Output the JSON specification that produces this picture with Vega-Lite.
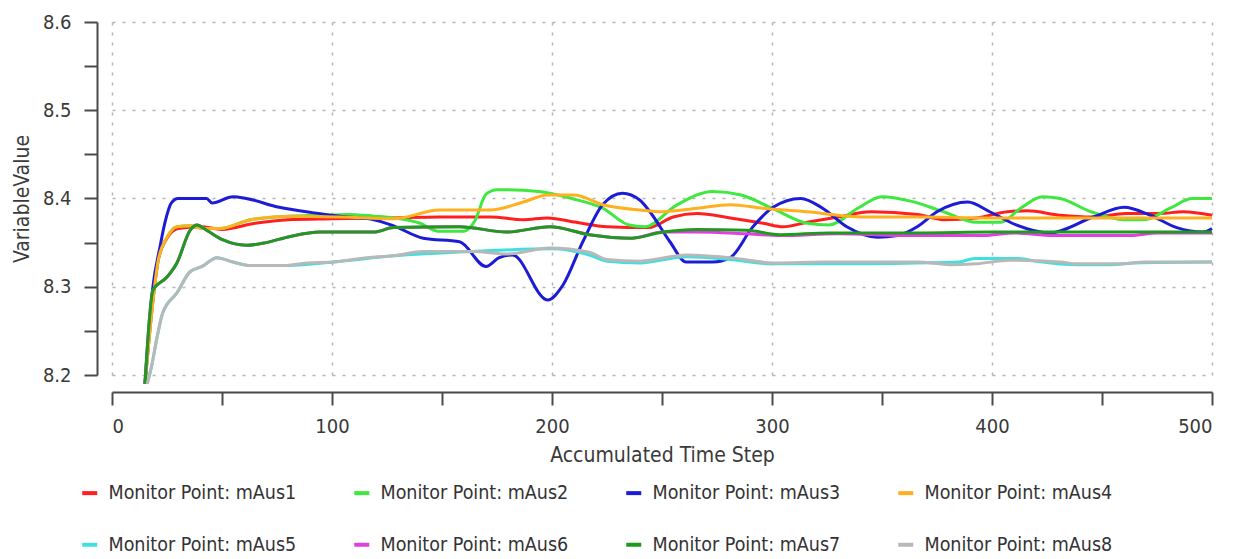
{
  "$schema": "https://vega.github.io/schema/vega-lite/v6.json",
  "width": 1100,
  "height": 353,
  "autosize": "none",
  "padding": {"left": 112, "top": 22, "right": 32, "bottom": 184},
  "background": "white",
  "datasets": {
    "pts": [
      {"s":"Monitor Point: mAus1","x":15,"y":8.19},{"s":"Monitor Point: mAus1","x":18,"y":8.27},{"s":"Monitor Point: mAus1","x":21,"y":8.33},{"s":"Monitor Point: mAus1","x":25,"y":8.355},{"s":"Monitor Point: mAus1","x":30,"y":8.366},{"s":"Monitor Point: mAus1","x":40,"y":8.368},{"s":"Monitor Point: mAus1","x":50,"y":8.365},{"s":"Monitor Point: mAus1","x":65,"y":8.372},{"s":"Monitor Point: mAus1","x":80,"y":8.376},{"s":"Monitor Point: mAus1","x":100,"y":8.377},{"s":"Monitor Point: mAus1","x":126,"y":8.378},{"s":"Monitor Point: mAus1","x":149,"y":8.379},{"s":"Monitor Point: mAus1","x":172,"y":8.379},{"s":"Monitor Point: mAus1","x":187,"y":8.376},{"s":"Monitor Point: mAus1","x":198,"y":8.378},{"s":"Monitor Point: mAus1","x":211,"y":8.373},{"s":"Monitor Point: mAus1","x":225,"y":8.368},{"s":"Monitor Point: mAus1","x":244,"y":8.367},{"s":"Monitor Point: mAus1","x":255,"y":8.379},{"s":"Monitor Point: mAus1","x":266,"y":8.383},{"s":"Monitor Point: mAus1","x":281,"y":8.378},{"s":"Monitor Point: mAus1","x":296,"y":8.372},{"s":"Monitor Point: mAus1","x":305,"y":8.368},{"s":"Monitor Point: mAus1","x":316,"y":8.373},{"s":"Monitor Point: mAus1","x":330,"y":8.379},{"s":"Monitor Point: mAus1","x":345,"y":8.385},{"s":"Monitor Point: mAus1","x":366,"y":8.382},{"s":"Monitor Point: mAus1","x":378,"y":8.376},{"s":"Monitor Point: mAus1","x":393,"y":8.378},{"s":"Monitor Point: mAus1","x":407,"y":8.385},{"s":"Monitor Point: mAus1","x":416,"y":8.386},{"s":"Monitor Point: mAus1","x":431,"y":8.381},{"s":"Monitor Point: mAus1","x":446,"y":8.379},{"s":"Monitor Point: mAus1","x":461,"y":8.383},{"s":"Monitor Point: mAus1","x":476,"y":8.383},{"s":"Monitor Point: mAus1","x":487,"y":8.385},{"s":"Monitor Point: mAus1","x":500,"y":8.381},

      {"s":"Monitor Point: mAus2","x":15,"y":8.19},{"s":"Monitor Point: mAus2","x":18,"y":8.27},{"s":"Monitor Point: mAus2","x":21,"y":8.33},{"s":"Monitor Point: mAus2","x":25,"y":8.356},{"s":"Monitor Point: mAus2","x":29.5,"y":8.368},{"s":"Monitor Point: mAus2","x":35.5,"y":8.369},{"s":"Monitor Point: mAus2","x":42,"y":8.366},{"s":"Monitor Point: mAus2","x":49,"y":8.366},{"s":"Monitor Point: mAus2","x":63,"y":8.376},{"s":"Monitor Point: mAus2","x":81,"y":8.38},{"s":"Monitor Point: mAus2","x":95,"y":8.381},{"s":"Monitor Point: mAus2","x":107,"y":8.382},{"s":"Monitor Point: mAus2","x":119,"y":8.38},{"s":"Monitor Point: mAus2","x":128,"y":8.378},{"s":"Monitor Point: mAus2","x":140,"y":8.372},{"s":"Monitor Point: mAus2","x":148,"y":8.363},{"s":"Monitor Point: mAus2","x":160,"y":8.363},{"s":"Monitor Point: mAus2","x":165,"y":8.375},{"s":"Monitor Point: mAus2","x":170,"y":8.405},{"s":"Monitor Point: mAus2","x":175,"y":8.41},{"s":"Monitor Point: mAus2","x":194,"y":8.408},{"s":"Monitor Point: mAus2","x":209,"y":8.4},{"s":"Monitor Point: mAus2","x":223,"y":8.389},{"s":"Monitor Point: mAus2","x":235,"y":8.37},{"s":"Monitor Point: mAus2","x":242,"y":8.368},{"s":"Monitor Point: mAus2","x":257,"y":8.393},{"s":"Monitor Point: mAus2","x":273,"y":8.408},{"s":"Monitor Point: mAus2","x":286,"y":8.404},{"s":"Monitor Point: mAus2","x":300,"y":8.389},{"s":"Monitor Point: mAus2","x":316,"y":8.372},{"s":"Monitor Point: mAus2","x":326,"y":8.37},{"s":"Monitor Point: mAus2","x":339,"y":8.389},{"s":"Monitor Point: mAus2","x":350,"y":8.402},{"s":"Monitor Point: mAus2","x":363,"y":8.397},{"s":"Monitor Point: mAus2","x":378,"y":8.385},{"s":"Monitor Point: mAus2","x":393,"y":8.373},{"s":"Monitor Point: mAus2","x":404,"y":8.373},{"s":"Monitor Point: mAus2","x":413,"y":8.389},{"s":"Monitor Point: mAus2","x":423,"y":8.402},{"s":"Monitor Point: mAus2","x":431,"y":8.4},{"s":"Monitor Point: mAus2","x":445,"y":8.385},{"s":"Monitor Point: mAus2","x":460,"y":8.376},{"s":"Monitor Point: mAus2","x":469,"y":8.376},{"s":"Monitor Point: mAus2","x":481,"y":8.389},{"s":"Monitor Point: mAus2","x":491,"y":8.4},{"s":"Monitor Point: mAus2","x":500,"y":8.4},

      {"s":"Monitor Point: mAus3","x":15,"y":8.19},{"s":"Monitor Point: mAus3","x":18.6,"y":8.3},{"s":"Monitor Point: mAus3","x":21.8,"y":8.345},{"s":"Monitor Point: mAus3","x":24,"y":8.372},{"s":"Monitor Point: mAus3","x":27,"y":8.395},{"s":"Monitor Point: mAus3","x":30,"y":8.4},{"s":"Monitor Point: mAus3","x":43,"y":8.4},{"s":"Monitor Point: mAus3","x":45.5,"y":8.395},{"s":"Monitor Point: mAus3","x":55,"y":8.402},{"s":"Monitor Point: mAus3","x":61,"y":8.4},{"s":"Monitor Point: mAus3","x":76,"y":8.39},{"s":"Monitor Point: mAus3","x":91,"y":8.384},{"s":"Monitor Point: mAus3","x":107,"y":8.379},{"s":"Monitor Point: mAus3","x":119,"y":8.376},{"s":"Monitor Point: mAus3","x":128,"y":8.369},{"s":"Monitor Point: mAus3","x":141.5,"y":8.355},{"s":"Monitor Point: mAus3","x":158,"y":8.351},{"s":"Monitor Point: mAus3","x":170,"y":8.323},{"s":"Monitor Point: mAus3","x":176,"y":8.333},{"s":"Monitor Point: mAus3","x":182,"y":8.336},{"s":"Monitor Point: mAus3","x":198,"y":8.285},{"s":"Monitor Point: mAus3","x":205,"y":8.302},{"s":"Monitor Point: mAus3","x":214,"y":8.351},{"s":"Monitor Point: mAus3","x":223,"y":8.393},{"s":"Monitor Point: mAus3","x":232,"y":8.406},{"s":"Monitor Point: mAus3","x":240,"y":8.398},{"s":"Monitor Point: mAus3","x":244.5,"y":8.385},{"s":"Monitor Point: mAus3","x":253.6,"y":8.351},{"s":"Monitor Point: mAus3","x":261,"y":8.328},{"s":"Monitor Point: mAus3","x":273,"y":8.328},{"s":"Monitor Point: mAus3","x":281,"y":8.333},{"s":"Monitor Point: mAus3","x":291,"y":8.367},{"s":"Monitor Point: mAus3","x":300.5,"y":8.39},{"s":"Monitor Point: mAus3","x":313,"y":8.4},{"s":"Monitor Point: mAus3","x":323,"y":8.389},{"s":"Monitor Point: mAus3","x":334,"y":8.368},{"s":"Monitor Point: mAus3","x":348,"y":8.356},{"s":"Monitor Point: mAus3","x":357,"y":8.358},{"s":"Monitor Point: mAus3","x":366,"y":8.368},{"s":"Monitor Point: mAus3","x":375,"y":8.385},{"s":"Monitor Point: mAus3","x":389,"y":8.396},{"s":"Monitor Point: mAus3","x":399,"y":8.385},{"s":"Monitor Point: mAus3","x":411,"y":8.37},{"s":"Monitor Point: mAus3","x":426,"y":8.361},{"s":"Monitor Point: mAus3","x":446,"y":8.379},{"s":"Monitor Point: mAus3","x":460,"y":8.39},{"s":"Monitor Point: mAus3","x":472,"y":8.381},{"s":"Monitor Point: mAus3","x":484,"y":8.367},{"s":"Monitor Point: mAus3","x":496,"y":8.362},{"s":"Monitor Point: mAus3","x":500,"y":8.366},

      {"s":"Monitor Point: mAus4","x":15,"y":8.19},{"s":"Monitor Point: mAus4","x":18,"y":8.27},{"s":"Monitor Point: mAus4","x":21,"y":8.33},{"s":"Monitor Point: mAus4","x":25,"y":8.356},{"s":"Monitor Point: mAus4","x":29.5,"y":8.368},{"s":"Monitor Point: mAus4","x":35.5,"y":8.369},{"s":"Monitor Point: mAus4","x":42,"y":8.366},{"s":"Monitor Point: mAus4","x":49,"y":8.366},{"s":"Monitor Point: mAus4","x":63,"y":8.376},{"s":"Monitor Point: mAus4","x":81,"y":8.38},{"s":"Monitor Point: mAus4","x":104,"y":8.379},{"s":"Monitor Point: mAus4","x":128,"y":8.377},{"s":"Monitor Point: mAus4","x":149,"y":8.387},{"s":"Monitor Point: mAus4","x":172,"y":8.387},{"s":"Monitor Point: mAus4","x":187,"y":8.396},{"s":"Monitor Point: mAus4","x":198,"y":8.404},{"s":"Monitor Point: mAus4","x":210,"y":8.404},{"s":"Monitor Point: mAus4","x":223,"y":8.393},{"s":"Monitor Point: mAus4","x":240,"y":8.387},{"s":"Monitor Point: mAus4","x":250,"y":8.385},{"s":"Monitor Point: mAus4","x":266,"y":8.389},{"s":"Monitor Point: mAus4","x":281,"y":8.393},{"s":"Monitor Point: mAus4","x":296,"y":8.389},{"s":"Monitor Point: mAus4","x":316,"y":8.385},{"s":"Monitor Point: mAus4","x":341,"y":8.379},{"s":"Monitor Point: mAus4","x":366,"y":8.379},{"s":"Monitor Point: mAus4","x":400,"y":8.378},{"s":"Monitor Point: mAus4","x":450,"y":8.378},{"s":"Monitor Point: mAus4","x":500,"y":8.378},

      {"s":"Monitor Point: mAus5","x":16,"y":8.19},{"s":"Monitor Point: mAus5","x":18,"y":8.21},{"s":"Monitor Point: mAus5","x":20.5,"y":8.243},{"s":"Monitor Point: mAus5","x":23,"y":8.27},{"s":"Monitor Point: mAus5","x":29.5,"y":8.293},{"s":"Monitor Point: mAus5","x":35.5,"y":8.317},{"s":"Monitor Point: mAus5","x":41,"y":8.323},{"s":"Monitor Point: mAus5","x":47.7,"y":8.333},{"s":"Monitor Point: mAus5","x":55,"y":8.328},{"s":"Monitor Point: mAus5","x":63,"y":8.324},{"s":"Monitor Point: mAus5","x":78,"y":8.324},{"s":"Monitor Point: mAus5","x":100.5,"y":8.328},{"s":"Monitor Point: mAus5","x":128,"y":8.335},{"s":"Monitor Point: mAus5","x":164,"y":8.34},{"s":"Monitor Point: mAus5","x":200,"y":8.343},{"s":"Monitor Point: mAus5","x":217,"y":8.336},{"s":"Monitor Point: mAus5","x":225,"y":8.329},{"s":"Monitor Point: mAus5","x":240,"y":8.327},{"s":"Monitor Point: mAus5","x":261,"y":8.334},{"s":"Monitor Point: mAus5","x":281,"y":8.331},{"s":"Monitor Point: mAus5","x":300,"y":8.326},{"s":"Monitor Point: mAus5","x":326,"y":8.326},{"s":"Monitor Point: mAus5","x":366,"y":8.327},{"s":"Monitor Point: mAus5","x":385,"y":8.328},{"s":"Monitor Point: mAus5","x":392,"y":8.332},{"s":"Monitor Point: mAus5","x":412,"y":8.332},{"s":"Monitor Point: mAus5","x":420,"y":8.329},{"s":"Monitor Point: mAus5","x":439,"y":8.325},{"s":"Monitor Point: mAus5","x":454,"y":8.325},{"s":"Monitor Point: mAus5","x":465,"y":8.327},{"s":"Monitor Point: mAus5","x":500,"y":8.328},

      {"s":"Monitor Point: mAus6","x":15,"y":8.19},{"s":"Monitor Point: mAus6","x":18.6,"y":8.296},{"s":"Monitor Point: mAus6","x":25,"y":8.311},{"s":"Monitor Point: mAus6","x":29.5,"y":8.327},{"s":"Monitor Point: mAus6","x":35.5,"y":8.364},{"s":"Monitor Point: mAus6","x":38.6,"y":8.37},{"s":"Monitor Point: mAus6","x":43,"y":8.364},{"s":"Monitor Point: mAus6","x":50.5,"y":8.353},{"s":"Monitor Point: mAus6","x":61,"y":8.347},{"s":"Monitor Point: mAus6","x":70,"y":8.35},{"s":"Monitor Point: mAus6","x":81,"y":8.357},{"s":"Monitor Point: mAus6","x":94.5,"y":8.362},{"s":"Monitor Point: mAus6","x":119,"y":8.362},{"s":"Monitor Point: mAus6","x":128,"y":8.367},{"s":"Monitor Point: mAus6","x":158,"y":8.368},{"s":"Monitor Point: mAus6","x":179.5,"y":8.362},{"s":"Monitor Point: mAus6","x":199,"y":8.368},{"s":"Monitor Point: mAus6","x":217,"y":8.359},{"s":"Monitor Point: mAus6","x":236,"y":8.355},{"s":"Monitor Point: mAus6","x":250.5,"y":8.362},{"s":"Monitor Point: mAus6","x":266,"y":8.362},{"s":"Monitor Point: mAus6","x":288,"y":8.36},{"s":"Monitor Point: mAus6","x":303.6,"y":8.358},{"s":"Monitor Point: mAus6","x":330,"y":8.36},{"s":"Monitor Point: mAus6","x":363,"y":8.358},{"s":"Monitor Point: mAus6","x":396,"y":8.358},{"s":"Monitor Point: mAus6","x":410,"y":8.361},{"s":"Monitor Point: mAus6","x":428,"y":8.358},{"s":"Monitor Point: mAus6","x":463,"y":8.358},{"s":"Monitor Point: mAus6","x":475,"y":8.361},{"s":"Monitor Point: mAus6","x":500,"y":8.361},

      {"s":"Monitor Point: mAus7","x":15,"y":8.19},{"s":"Monitor Point: mAus7","x":18.6,"y":8.296},{"s":"Monitor Point: mAus7","x":25,"y":8.311},{"s":"Monitor Point: mAus7","x":29.5,"y":8.327},{"s":"Monitor Point: mAus7","x":35.5,"y":8.364},{"s":"Monitor Point: mAus7","x":38.6,"y":8.37},{"s":"Monitor Point: mAus7","x":43,"y":8.364},{"s":"Monitor Point: mAus7","x":50.5,"y":8.353},{"s":"Monitor Point: mAus7","x":61,"y":8.347},{"s":"Monitor Point: mAus7","x":70,"y":8.35},{"s":"Monitor Point: mAus7","x":81,"y":8.357},{"s":"Monitor Point: mAus7","x":94.5,"y":8.362},{"s":"Monitor Point: mAus7","x":119,"y":8.362},{"s":"Monitor Point: mAus7","x":128,"y":8.367},{"s":"Monitor Point: mAus7","x":158,"y":8.368},{"s":"Monitor Point: mAus7","x":179.5,"y":8.362},{"s":"Monitor Point: mAus7","x":199,"y":8.368},{"s":"Monitor Point: mAus7","x":217,"y":8.359},{"s":"Monitor Point: mAus7","x":236,"y":8.355},{"s":"Monitor Point: mAus7","x":250.5,"y":8.362},{"s":"Monitor Point: mAus7","x":266,"y":8.365},{"s":"Monitor Point: mAus7","x":288.6,"y":8.364},{"s":"Monitor Point: mAus7","x":303.6,"y":8.359},{"s":"Monitor Point: mAus7","x":326,"y":8.361},{"s":"Monitor Point: mAus7","x":366,"y":8.361},{"s":"Monitor Point: mAus7","x":400,"y":8.362},{"s":"Monitor Point: mAus7","x":450,"y":8.362},{"s":"Monitor Point: mAus7","x":500,"y":8.362},

      {"s":"Monitor Point: mAus8","x":16,"y":8.19},{"s":"Monitor Point: mAus8","x":18,"y":8.21},{"s":"Monitor Point: mAus8","x":20.5,"y":8.243},{"s":"Monitor Point: mAus8","x":23,"y":8.27},{"s":"Monitor Point: mAus8","x":29.5,"y":8.293},{"s":"Monitor Point: mAus8","x":35.5,"y":8.317},{"s":"Monitor Point: mAus8","x":41,"y":8.323},{"s":"Monitor Point: mAus8","x":47.7,"y":8.333},{"s":"Monitor Point: mAus8","x":55,"y":8.328},{"s":"Monitor Point: mAus8","x":63,"y":8.324},{"s":"Monitor Point: mAus8","x":78,"y":8.324},{"s":"Monitor Point: mAus8","x":88.6,"y":8.327},{"s":"Monitor Point: mAus8","x":100.5,"y":8.328},{"s":"Monitor Point: mAus8","x":116,"y":8.333},{"s":"Monitor Point: mAus8","x":128,"y":8.335},{"s":"Monitor Point: mAus8","x":141.5,"y":8.34},{"s":"Monitor Point: mAus8","x":164,"y":8.34},{"s":"Monitor Point: mAus8","x":179.5,"y":8.337},{"s":"Monitor Point: mAus8","x":199,"y":8.344},{"s":"Monitor Point: mAus8","x":217,"y":8.339},{"s":"Monitor Point: mAus8","x":225,"y":8.331},{"s":"Monitor Point: mAus8","x":240,"y":8.329},{"s":"Monitor Point: mAus8","x":261,"y":8.336},{"s":"Monitor Point: mAus8","x":281,"y":8.333},{"s":"Monitor Point: mAus8","x":300.5,"y":8.327},{"s":"Monitor Point: mAus8","x":326,"y":8.328},{"s":"Monitor Point: mAus8","x":366,"y":8.328},{"s":"Monitor Point: mAus8","x":381,"y":8.325},{"s":"Monitor Point: mAus8","x":393,"y":8.326},{"s":"Monitor Point: mAus8","x":408,"y":8.33},{"s":"Monitor Point: mAus8","x":431,"y":8.328},{"s":"Monitor Point: mAus8","x":439,"y":8.326},{"s":"Monitor Point: mAus8","x":457,"y":8.326},{"s":"Monitor Point: mAus8","x":470,"y":8.328},{"s":"Monitor Point: mAus8","x":500,"y":8.328}
    ]
  },
  "data": {"name": "pts"},
  "mark": {"type": "line", "strokeWidth": 3, "interpolate": "monotone", "clip": false},
  "encoding": {
    "x": {
      "field": "x", "type": "quantitative",
      "scale": {"domain": [0, 500], "nice": false, "zero": false},
      "axis": {
        "title": "Accumulated Time Step",
        "values": [0, 50, 100, 150, 200, 250, 300, 350, 400, 450, 500],
        "labelExpr": "datum.value % 100 === 0 ? datum.label : ''",
        "gridOpacity": {"condition": {"test": "datum.value % 100 === 0", "value": 1}, "value": 0},
        "offset": 17,
        "tickSize": 13,
        "labelPadding": 11,
        "titlePadding": 8
      }
    },
    "y": {
      "field": "y", "type": "quantitative",
      "scale": {"domain": [8.2, 8.6], "nice": false, "zero": false},
      "axis": {
        "title": "VariableValue",
        "values": [8.2, 8.25, 8.3, 8.35, 8.4, 8.45, 8.5, 8.55, 8.6],
        "format": ".1f",
        "labelExpr": "round(datum.value * 100) % 10 === 0 ? datum.label : ''",
        "gridOpacity": {"condition": {"test": "round(datum.value * 100) % 10 === 0", "value": 1}, "value": 0},
        "offset": 15,
        "tickSize": 13,
        "labelPadding": 13,
        "titlePadding": 10
      }
    },
    "color": {
      "field": "s", "type": "nominal",
      "scale": {
        "domain": ["Monitor Point: mAus1","Monitor Point: mAus2","Monitor Point: mAus3","Monitor Point: mAus4","Monitor Point: mAus5","Monitor Point: mAus6","Monitor Point: mAus7","Monitor Point: mAus8"],
        "range": ["#ff1f1f", "#3ee83e", "#1c1cd6", "#ffb020", "#40e0e0", "#e040e0", "#1f9a1f", "#b8b8b8"]
      },
      "legend": {
        "title": null,
        "orient": "none",
        "direction": "horizontal",
        "columns": 4,
        "legendX": -32,
        "legendY": 461,
        "columnPadding": 49,
        "rowPadding": 31,
        "symbolType": "stroke",
        "symbolSize": 225,
        "symbolStrokeWidth": 4,
        "labelFontSize": 19.5,
        "labelFont": "DejaVu Sans Condensed",
        "labelColor": "#333",
        "labelOffset": 9,
        "labelLimit": 300
      }
    }
  },
  "config": {
    "view": {"stroke": null},
    "axis": {
      "domainColor": "#4a4a4a",
      "domainWidth": 2,
      "tickColor": "#4a4a4a",
      "tickWidth": 2,
      "labelFont": "DejaVu Sans Condensed",
      "labelFontSize": 20,
      "labelColor": "#3a3a3a",
      "titleFont": "DejaVu Sans Condensed",
      "titleFontSize": 21,
      "titleFontWeight": "normal",
      "titleColor": "#3a3a3a",
      "gridColor": "#b5b5b5",
      "gridDash": [3, 7],
      "gridWidth": 1.5
    }
  }
}
